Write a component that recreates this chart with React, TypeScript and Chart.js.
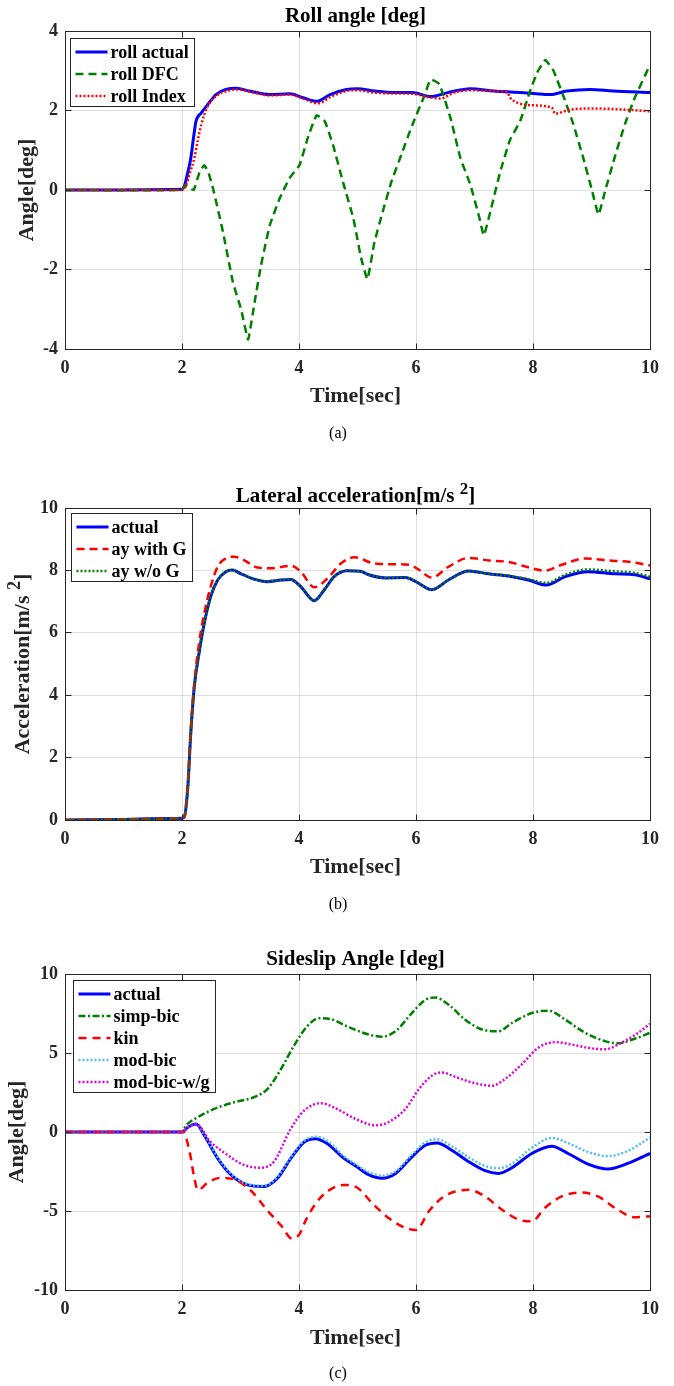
import React, { useEffect, useRef } from "react";
import { Chart, registerables } from "chart.js";

Chart.register(...registerables);

const SERIF = "'Liberation Serif', 'Times New Roman', Times, serif";
const INK = "#262626";
const GRID = "rgba(38,38,38,0.14)";

type Pt = [number, number];

// ---------- tick labels ----------
const timeTicks = [0, 2, 4, 6, 8, 10];
const rollTicks = [-4, -2, 0, 2, 4];
const accTicks = [0, 2, 4, 6, 8, 10];
const slipTicks = [-10, -5, 0, 5, 10];

// ---------- (a) Roll angle [deg] ----------
const rollActual: Pt[] = [
  [0, 0], [2.0, 0.02], [2.04, 0.1], [2.1, 0.45], [2.15, 0.8], [2.2, 1.35], [2.24, 1.73], [2.33, 1.94],
  [2.44, 2.15], [2.58, 2.4], [2.75, 2.53], [2.93, 2.56], [3.15, 2.49], [3.5, 2.4], [3.84, 2.42],
  [4.07, 2.32], [4.3, 2.23], [4.53, 2.4], [4.81, 2.53], [5.0, 2.55], [5.29, 2.49], [5.63, 2.45],
  [5.94, 2.45], [6.25, 2.35], [6.54, 2.45], [6.93, 2.55], [7.33, 2.49], [7.67, 2.46], [8.01, 2.43],
  [8.29, 2.4], [8.58, 2.49], [8.97, 2.53], [9.37, 2.49], [10, 2.45],
];
const rollDFC: Pt[] = [
  [0, 0], [2.0, 0], [2.05, 0.12], [2.1, 0.08], [2.2, 0.0], [2.3, 0.45], [2.38, 0.62], [2.45, 0.45],
  [2.53, 0.04], [2.7, -1.05], [2.87, -2.32], [3.01, -3.0], [3.13, -3.76], [3.24, -2.83], [3.35, -1.9],
  [3.5, -0.89], [3.67, -0.21], [3.84, 0.3], [4.01, 0.63], [4.15, 1.31], [4.3, 1.88], [4.44, 1.73],
  [4.58, 1.14], [4.75, 0.21], [4.93, -0.72], [5.06, -1.7], [5.17, -2.24], [5.29, -1.31], [5.43, -0.55],
  [5.58, 0.21], [5.75, 0.89], [5.94, 1.65], [6.14, 2.36], [6.25, 2.78], [6.4, 2.66], [6.59, 1.81],
  [6.76, 0.8], [6.93, 0.13], [7.08, -0.68], [7.16, -1.14], [7.27, -0.55], [7.44, 0.46], [7.61, 1.27],
  [7.78, 1.73], [7.95, 2.49], [8.07, 2.95], [8.21, 3.27], [8.35, 3.0], [8.52, 2.36], [8.69, 1.65],
  [8.86, 0.8], [9.0, 0.04], [9.12, -0.62], [9.23, -0.04], [9.4, 0.84], [9.57, 1.65], [9.74, 2.32],
  [10, 3.15],
];
const rollIndex: Pt[] = [
  [0, 0], [2.0, 0], [2.07, 0.13], [2.14, 0.45], [2.21, 0.8], [2.27, 1.25], [2.33, 1.65], [2.44, 2.11],
  [2.6, 2.38], [2.8, 2.5], [2.95, 2.53], [3.2, 2.46], [3.5, 2.38], [3.84, 2.4], [4.1, 2.28],
  [4.33, 2.18], [4.55, 2.35], [4.85, 2.5], [5.0, 2.51], [5.29, 2.45], [5.63, 2.43], [5.94, 2.42],
  [6.2, 2.34], [6.42, 2.3], [6.65, 2.45], [6.93, 2.51], [7.33, 2.49], [7.56, 2.45], [7.61, 2.32],
  [7.76, 2.18], [8.01, 2.13], [8.32, 2.07], [8.38, 1.92], [8.63, 2.02], [9.03, 2.05], [9.48, 2.03],
  [10, 1.98],
];

// ---------- (b) Lateral acceleration ----------
const accActual: Pt[] = [
  [0, 0], [1.0, 0.02], [2.0, 0.06], [2.04, 0.1], [2.1, 1.07], [2.15, 2.78], [2.21, 4.27], [2.3, 5.45],
  [2.38, 6.3], [2.49, 7.16], [2.61, 7.69], [2.75, 7.96], [2.86, 8.01], [3.0, 7.9], [3.23, 7.72],
  [3.46, 7.64], [3.69, 7.69], [3.86, 7.71], [4.03, 7.48], [4.26, 7.03], [4.43, 7.37], [4.6, 7.8],
  [4.82, 7.99], [5.05, 7.97], [5.19, 7.86], [5.48, 7.76], [5.82, 7.77], [5.99, 7.65], [6.27, 7.38],
  [6.56, 7.7], [6.9, 7.98], [7.24, 7.89], [7.58, 7.82], [7.92, 7.69], [8.23, 7.53], [8.55, 7.8],
  [8.94, 7.96], [9.4, 7.89], [9.74, 7.86], [10, 7.73],
];
const accWithG: Pt[] = [
  [0, 0], [1.0, 0.02], [2.0, 0.06], [2.04, 0.1], [2.1, 1.2], [2.15, 2.9], [2.21, 4.38], [2.3, 5.77],
  [2.38, 6.62], [2.49, 7.48], [2.61, 8.12], [2.75, 8.39], [2.89, 8.44], [3.06, 8.33], [3.29, 8.09],
  [3.52, 8.07], [3.72, 8.12], [3.86, 8.15], [4.03, 7.96], [4.26, 7.46], [4.49, 7.75], [4.72, 8.23],
  [4.95, 8.42], [5.25, 8.24], [5.53, 8.2], [5.88, 8.18], [6.05, 8.02], [6.27, 7.77], [6.56, 8.12],
  [6.9, 8.4], [7.24, 8.32], [7.58, 8.27], [7.92, 8.1], [8.2, 7.99], [8.49, 8.18], [8.89, 8.38],
  [9.27, 8.32], [9.66, 8.27], [10, 8.16],
];
const accWithoutG: Pt[] = [
  [0, 0], [1.0, 0.02], [2.0, 0.06], [2.04, 0.1], [2.1, 1.07], [2.15, 2.78], [2.21, 4.27], [2.3, 5.45],
  [2.38, 6.3], [2.49, 7.16], [2.61, 7.69], [2.75, 7.96], [2.86, 8.01], [3.0, 7.9], [3.23, 7.72],
  [3.46, 7.64], [3.69, 7.69], [3.86, 7.71], [4.03, 7.48], [4.26, 7.03], [4.43, 7.37], [4.6, 7.8],
  [4.82, 7.99], [5.05, 7.97], [5.19, 7.86], [5.48, 7.76], [5.82, 7.77], [5.99, 7.65], [6.27, 7.38],
  [6.56, 7.7], [6.9, 7.98], [7.24, 7.89], [7.58, 7.83], [7.92, 7.72], [8.23, 7.6], [8.55, 7.86],
  [8.94, 8.03], [9.4, 7.97], [9.74, 7.92], [10, 7.8],
];

// ---------- (c) Sideslip angle ----------
const slipActual: Pt[] = [
  [0, 0], [2.0, 0], [2.1, 0.3], [2.24, 0.5], [2.38, -0.2], [2.61, -1.67], [2.84, -2.72], [3.12, -3.35],
  [3.4, -3.45], [3.63, -2.93], [3.86, -1.67], [4.09, -0.63], [4.28, -0.42], [4.48, -0.73], [4.77, -1.67],
  [4.97, -2.15], [5.19, -2.7], [5.42, -2.93], [5.65, -2.62], [5.93, -1.57], [6.16, -0.84], [6.36, -0.69],
  [6.61, -1.15], [6.9, -1.88], [7.18, -2.45], [7.41, -2.62], [7.64, -2.26], [7.98, -1.36], [8.32, -0.9],
  [8.6, -1.36], [8.94, -2.03], [9.28, -2.34], [9.62, -1.99], [10, -1.36],
];
const slipSimpBic: Pt[] = [
  [0, 0], [2.0, 0], [2.07, 0.42], [2.27, 0.94], [2.55, 1.46], [2.89, 1.88], [3.23, 2.2], [3.46, 2.72],
  [3.69, 3.97], [3.91, 5.44], [4.14, 6.69], [4.34, 7.2], [4.54, 7.15], [4.82, 6.69], [4.97, 6.45],
  [5.19, 6.17], [5.42, 6.03], [5.65, 6.38], [5.93, 7.53], [6.16, 8.37], [6.33, 8.51], [6.56, 8.05],
  [6.84, 7.11], [7.13, 6.49], [7.41, 6.38], [7.64, 6.9], [7.98, 7.53], [8.26, 7.68], [8.55, 7.11],
  [8.89, 6.28], [9.23, 5.75], [9.45, 5.61], [9.74, 5.9], [10, 6.28],
];
const slipKin: Pt[] = [
  [0, 0], [2.02, 0], [2.13, -1.25], [2.21, -2.9], [2.27, -3.68], [2.44, -3.2], [2.66, -2.9], [2.89, -3.0],
  [3.18, -3.72], [3.46, -4.97], [3.69, -5.9], [3.88, -6.74], [4.0, -6.5], [4.14, -5.4], [4.37, -4.14],
  [4.6, -3.51], [4.77, -3.35], [4.99, -3.51], [5.25, -4.5], [5.53, -5.44], [5.82, -6.07], [6.0, -6.2],
  [6.22, -5.02], [6.44, -4.18], [6.67, -3.77], [6.9, -3.66], [7.18, -4.08], [7.47, -4.92], [7.75, -5.54],
  [7.98, -5.65], [8.2, -4.81], [8.49, -4.08], [8.83, -3.83], [9.11, -4.08], [9.45, -4.92], [9.74, -5.4],
  [10, -5.33],
];
const slipModBic: Pt[] = [
  [0, 0], [2.0, 0], [2.1, 0.3], [2.24, 0.5], [2.38, -0.15], [2.61, -1.6], [2.84, -2.65], [3.12, -3.3],
  [3.4, -3.4], [3.63, -2.85], [3.86, -1.6], [4.09, -0.55], [4.3, -0.3], [4.5, -0.6], [4.77, -1.55],
  [4.97, -2.05], [5.19, -2.55], [5.42, -2.76], [5.65, -2.5], [5.93, -1.45], [6.16, -0.65], [6.36, -0.46],
  [6.61, -0.9], [6.9, -1.6], [7.18, -2.15], [7.41, -2.3], [7.64, -2.0], [7.98, -1.0], [8.32, -0.38],
  [8.6, -0.7], [8.94, -1.26], [9.28, -1.53], [9.62, -1.2], [10, -0.36],
];
const slipModBicWg: Pt[] = [
  [0, 0], [2.0, 0], [2.1, 0.3], [2.24, 0.5], [2.49, -0.63], [2.78, -1.46], [3.06, -2.09], [3.35, -2.26],
  [3.57, -1.88], [3.86, 0.21], [4.09, 1.36], [4.37, 1.82], [4.65, 1.46], [4.96, 0.84], [5.31, 0.42],
  [5.53, 0.63], [5.82, 1.46], [6.05, 2.72], [6.27, 3.56], [6.44, 3.77], [6.67, 3.49], [6.95, 3.14],
  [7.3, 2.93], [7.52, 3.35], [7.81, 4.29], [8.09, 5.33], [8.38, 5.69], [8.66, 5.54], [8.94, 5.33],
  [9.23, 5.23], [9.51, 5.65], [9.8, 6.28], [10, 6.86],
];

// ---------- presentation ----------
type Seg = { text: string; sup?: boolean };
type Series = {
  label: string; data: Pt[]; color: string; width: number; dash: number[]; order: number; sharp?: boolean;
};
type Spec = {
  canvasTop: number;
  height: number;
  plotTop: number;
  plotBottom: number;
  yMin: number;
  yMax: number;
  yTicks: number[];
  title: Seg[];
  titleBaseline: number;
  yLabel: Seg[];
  yLabelX: number;
  timeBaseline: number;
  legendDx: number;
  legendDy: number;
  caption: string;
  captionY: number;
  series: Series[];
};

const BLUE = "#0000ff";
const GREEN = "#008000";
const RED = "#ff0000";
const CYAN = "#4dbeee";
const MAGENTA = "#e000e0";

const specs: Spec[] = [
  {
    canvasTop: 0, height: 450, plotTop: 31, plotBottom: 349,
    yMin: -4, yMax: 4, yTicks: rollTicks,
    title: [{ text: "Roll angle [deg]" }], titleBaseline: 22,
    yLabel: [{ text: "Angle[deg]" }], yLabelX: 33,
    timeBaseline: 402, legendDx: 5, legendDy: 7,
    caption: "(a)", captionY: 433,
    series: [
      { label: "roll actual", data: rollActual, color: BLUE, width: 3, dash: [], order: 3 },
      { label: "roll DFC", data: rollDFC, color: GREEN, width: 2.5, dash: [8, 5], order: 2, sharp: true },
      { label: "roll Index", data: rollIndex, color: RED, width: 2.5, dash: [2, 2], order: 1 },
    ],
  },
  {
    canvasTop: 450, height: 470, plotTop: 508, plotBottom: 820,
    yMin: 0, yMax: 10, yTicks: accTicks,
    title: [{ text: "Lateral acceleration[m/s " }, { text: "2", sup: true }, { text: "]" }], titleBaseline: 502,
    yLabel: [{ text: "Acceleration[m/s " }, { text: "2", sup: true }, { text: "]" }], yLabelX: 29,
    timeBaseline: 873, legendDx: 6, legendDy: 5,
    caption: "(b)", captionY: 904,
    series: [
      { label: "actual", data: accActual, color: BLUE, width: 3, dash: [], order: 3 },
      { label: "ay with G", data: accWithG, color: RED, width: 2.5, dash: [8, 5], order: 2 },
      { label: "ay w/o G", data: accWithoutG, color: GREEN, width: 2.5, dash: [2, 2], order: 1 },
    ],
  },
  {
    canvasTop: 920, height: 466, plotTop: 974, plotBottom: 1290,
    yMin: -10, yMax: 10, yTicks: slipTicks,
    title: [{ text: "Sideslip Angle [deg]" }], titleBaseline: 965,
    yLabel: [{ text: "Angle[deg]" }], yLabelX: 23,
    timeBaseline: 1344, legendDx: 8, legendDy: 6,
    caption: "(c)", captionY: 1373,
    series: [
      { label: "actual", data: slipActual, color: BLUE, width: 3, dash: [], order: 5 },
      { label: "simp-bic", data: slipSimpBic, color: GREEN, width: 2.5, dash: [7, 2.5, 2, 2.5], order: 4 },
      { label: "kin", data: slipKin, color: RED, width: 2.5, dash: [8, 6], order: 3 },
      { label: "mod-bic", data: slipModBic, color: CYAN, width: 2.5, dash: [2, 2], order: 2 },
      { label: "mod-bic-w/g", data: slipModBicWg, color: MAGENTA, width: 2.5, dash: [2, 2], order: 1 },
    ],
  },
];

const PLOT_LEFT = 65;
const PLOT_RIGHT = 650;
const W = 674;

function segsWidth(ctx: CanvasRenderingContext2D, segs: Seg[], size: number) {
  let w = 0;
  for (const s of segs) {
    ctx.font = `bold ${s.sup ? Math.round(size * 0.8) : size}px ${SERIF}`;
    w += ctx.measureText(s.text).width;
  }
  return w;
}

function drawSegs(ctx: CanvasRenderingContext2D, segs: Seg[], cx: number, baseline: number, size: number) {
  let x = cx - segsWidth(ctx, segs, size) / 2;
  ctx.textAlign = "left";
  ctx.textBaseline = "alphabetic";
  for (const s of segs) {
    ctx.font = `bold ${s.sup ? Math.round(size * 0.8) : size}px ${SERIF}`;
    ctx.fillText(s.text, x, s.sup ? baseline - size * 0.4 : baseline);
    x += ctx.measureText(s.text).width;
  }
}

const align = (p: number) => Math.round(p - 0.5) + 0.5;

function makeDecor(spec: Spec) {
  return {
    id: "decor",
    afterDatasetsDraw(chart: any) {
      const ctx: CanvasRenderingContext2D = chart.ctx;
      const a = chart.chartArea;
      const xs = chart.scales.x;
      const ys = chart.scales.y;
      const off = spec.canvasTop;
      ctx.save();
      ctx.setLineDash([]);
      // axes box + inward ticks
      const L = align(a.left), R = align(a.right), T = align(a.top), B = align(a.bottom);
      ctx.strokeStyle = INK;
      ctx.lineWidth = 1;
      ctx.strokeRect(L, T, R - L, B - T);
      ctx.beginPath();
      for (const v of timeTicks) {
        const px = align(xs.getPixelForValue(v));
        ctx.moveTo(px, B); ctx.lineTo(px, B - 6);
        ctx.moveTo(px, T); ctx.lineTo(px, T + 6);
      }
      for (const v of spec.yTicks) {
        const py = align(ys.getPixelForValue(v));
        ctx.moveTo(L, py); ctx.lineTo(L + 6, py);
        ctx.moveTo(R, py); ctx.lineTo(R - 6, py);
      }
      ctx.stroke();

      // legend
      ctx.font = `bold 18px ${SERIF}`;
      let tw = 0;
      for (const s of spec.series) tw = Math.max(tw, ctx.measureText(s.label).width);
      const n = spec.series.length;
      const bx = align(a.left + spec.legendDx);
      const by = align(a.top + spec.legendDy);
      const bw = Math.round(40 + tw + 6);
      const bh = 13 + (n - 1) * 22 + 11;
      ctx.fillStyle = "#ffffff";
      ctx.fillRect(bx, by, bw, bh);
      ctx.strokeStyle = INK;
      ctx.lineWidth = 1;
      ctx.strokeRect(bx, by, bw, bh);
      spec.series.forEach((s, i) => {
        const cy = Math.round(by + 13 + i * 22.2);
        ctx.beginPath();
        ctx.setLineDash(s.dash);
        ctx.strokeStyle = s.color;
        ctx.lineWidth = s.width;
        ctx.moveTo(bx + 5, cy);
        ctx.lineTo(bx + 37, cy);
        ctx.stroke();
        ctx.setLineDash([]);
        ctx.fillStyle = "#000000";
        ctx.font = `bold 18px ${SERIF}`;
        ctx.textAlign = "left";
        ctx.textBaseline = "middle";
        ctx.fillText(s.label, bx + 40, cy + 1);
      });

      // titles
      const cx = (a.left + a.right) / 2 - 2;
      ctx.fillStyle = "#000000";
      drawSegs(ctx, spec.title, cx, spec.titleBaseline - off, 21);
      ctx.fillStyle = INK;
      drawSegs(ctx, [{ text: "Time[sec]" }], cx, spec.timeBaseline - off, 22);
      ctx.save();
      ctx.translate(spec.yLabelX, (a.top + a.bottom) / 2);
      ctx.rotate(-Math.PI / 2);
      drawSegs(ctx, spec.yLabel, 0, 0, 22);
      ctx.restore();
      ctx.restore();
    },
  };
}

function buildConfig(spec: Spec): any {
  const tickFont = { family: SERIF, size: 18, weight: "bold" as const };
  const xAxisH = spec.height - (spec.plotBottom - spec.canvasTop);
  return {
    type: "line",
    data: {
      datasets: spec.series.map((s) => ({
        label: s.label,
        data: s.data.map(([x, y]) => ({ x, y })),
        borderColor: s.color,
        backgroundColor: s.color,
        borderWidth: s.width,
        borderDash: s.dash,
        borderCapStyle: "butt",
        borderJoinStyle: "round",
        pointRadius: 0,
        pointHoverRadius: 0,
        fill: false,
        cubicInterpolationMode: s.sharp ? "default" : "monotone",
        tension: s.sharp ? 0.12 : 0.4,
        order: s.order,
      })),
    },
    options: {
      responsive: false,
      devicePixelRatio: 1,
      animation: false,
      events: [],
      layout: {
        padding: {
          top: spec.plotTop - spec.canvasTop,
          left: 0,
          right: W - PLOT_RIGHT,
          bottom: 0,
        },
      },
      plugins: {
        legend: { display: false },
        title: { display: false },
        tooltip: { enabled: false },
      },
      scales: {
        x: {
          type: "linear",
          min: 0,
          max: 10,
          afterBuildTicks: (s: any) => {
            s.ticks = timeTicks.map((v) => ({ value: v }));
          },
          afterFit: (s: any) => {
            s.height = xAxisH;
          },
          ticks: {
            font: tickFont,
            color: INK,
            padding: 9,
            maxRotation: 0,
            autoSkip: false,
            callback: (v: any) => String(v),
          },
          grid: { color: GRID, lineWidth: 1, drawTicks: false },
          border: { display: false },
        },
        y: {
          type: "linear",
          min: spec.yMin,
          max: spec.yMax,
          afterBuildTicks: (s: any) => {
            s.ticks = spec.yTicks.map((v) => ({ value: v }));
          },
          afterFit: (s: any) => {
            s.width = PLOT_LEFT;
          },
          ticks: {
            font: tickFont,
            color: INK,
            padding: 7,
            autoSkip: false,
            callback: (v: any) => String(v),
          },
          grid: { color: GRID, lineWidth: 1, drawTicks: false },
          border: { display: false },
        },
      },
    },
    plugins: [makeDecor(spec)],
  };
}

function Panel({ spec }: { spec: Spec }) {
  const ref = useRef<HTMLCanvasElement>(null);
  useEffect(() => {
    const chart = new Chart(ref.current as HTMLCanvasElement, buildConfig(spec));
    return () => chart.destroy();
  }, [spec]);
  return (
    <>
      <canvas
        ref={ref}
        width={W}
        height={spec.height}
        style={{ position: "absolute", left: 0, top: spec.canvasTop, width: W, height: spec.height, display: "block" }}
      />
      <div
        style={{
          position: "absolute",
          left: 338,
          top: spec.captionY,
          transform: "translate(-50%, -50%)",
          fontFamily: SERIF,
          fontSize: 16,
          color: "#000",
          lineHeight: 1,
          whiteSpace: "nowrap",
        }}
      >
        {spec.caption}
      </div>
    </>
  );
}

export default function App() {
  return (
    <div style={{ position: "absolute", left: 0, top: 0, width: W, height: 1386, background: "#fff", overflow: "hidden" }}>
      {specs.map((s, i) => (
        <Panel key={i} spec={s} />
      ))}
    </div>
  );
}
